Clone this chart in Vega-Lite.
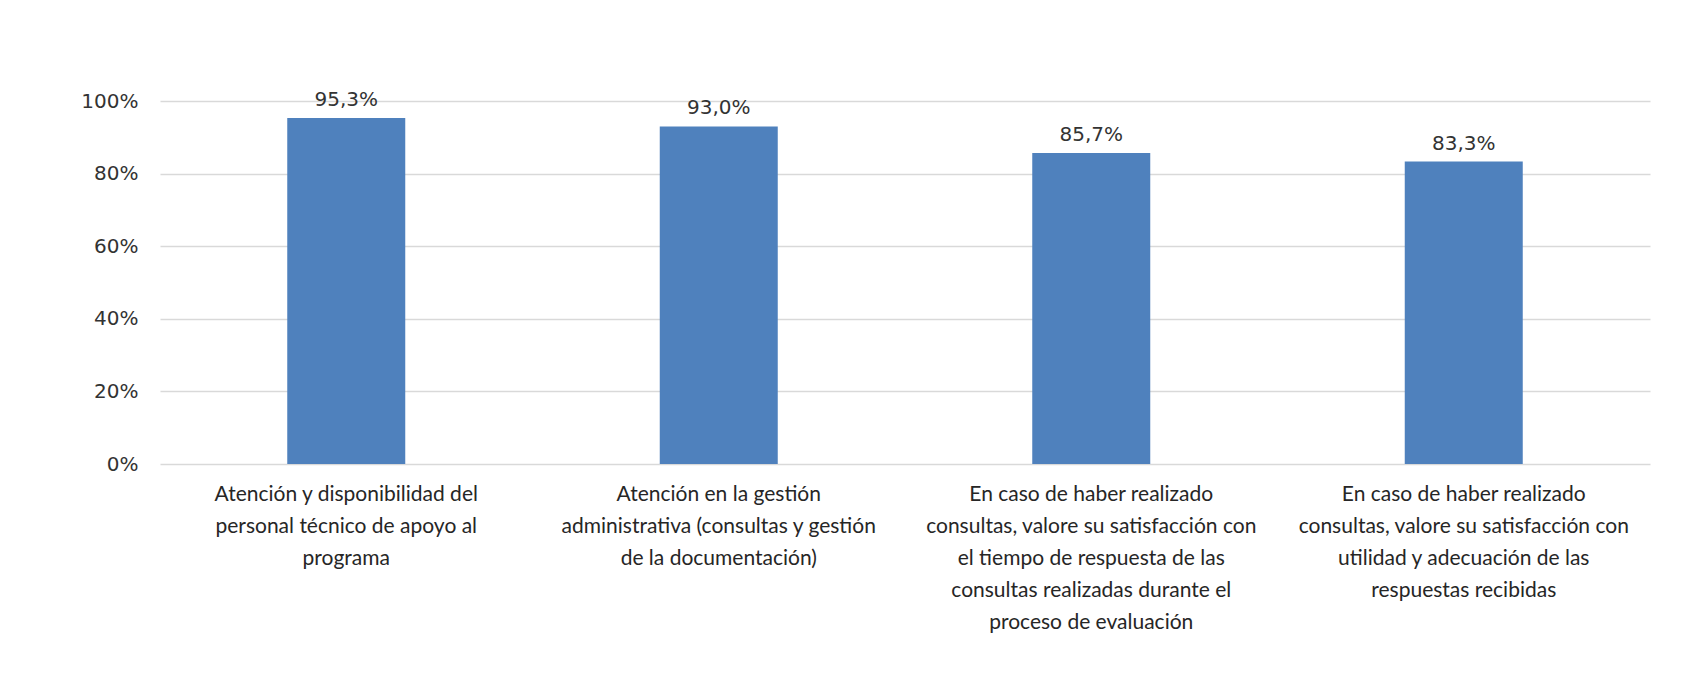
{
  "$schema": "https://vega.github.io/schema/vega-lite/v6.json",
  "autosize": "none",
  "width": 1490,
  "height": 363,
  "padding": {"left": 160, "top": 101, "right": 36, "bottom": 212},
  "background": "white",
  "config": {
    "view": {"stroke": null},
    "locale": {"number": {"decimal": ",", "thousands": ".", "grouping": [3], "currency": ["", " €"]}}
  },
  "data": {
    "values": [
      {"item": "Atención y disponibilidad del\npersonal técnico de apoyo al\nprograma", "valor": 0.953},
      {"item": "Atención en la gestión\nadministrativa (consultas y gestión\nde la documentación)", "valor": 0.930},
      {"item": "En caso de haber realizado\nconsultas, valore su satisfacción con\nel tiempo de respuesta de las\nconsultas realizadas durante el\nproceso de evaluación", "valor": 0.857},
      {"item": "En caso de haber realizado\nconsultas, valore su satisfacción con\nutilidad y adecuación de las\nrespuestas recibidas", "valor": 0.833}
    ]
  },
  "encoding": {
    "x": {
      "field": "item", "type": "nominal", "sort": null,
      "scale": {"paddingInner": 0, "paddingOuter": 0},
      "axis": {
        "title": null, "labelAngle": 0, "domain": false, "ticks": false,
        "labelExpr": "split(datum.value, '\\n')",
        "labelFont": "Lato", "labelFontSize": 21, "labelColor": "#262626",
        "labelLineHeight": 32, "labelPadding": 19, "labelBaseline": "top",
        "labelLimit": 0
      }
    },
    "y": {
      "field": "valor", "type": "quantitative",
      "scale": {"domain": [0, 1]},
      "axis": {
        "title": null, "format": ".0%", "values": [0, 0.2, 0.4, 0.6, 0.8, 1],
        "domain": false, "ticks": false, "labelPadding": 22,
        "labelFont": "DejaVu Sans", "labelFontSize": 20, "labelColor": "#333333",
        "gridColor": "#d9d9d9", "gridWidth": 1.5
      }
    }
  },
  "layer": [
    {"mark": {"type": "bar", "size": 118, "color": "#4f81bd"}},
    {
      "mark": {"type": "text", "baseline": "bottom", "dy": -8, "font": "DejaVu Sans", "fontSize": 20, "color": "#333333"},
      "encoding": {"text": {"field": "valor", "type": "quantitative", "format": ".1%"}}
    }
  ]
}
